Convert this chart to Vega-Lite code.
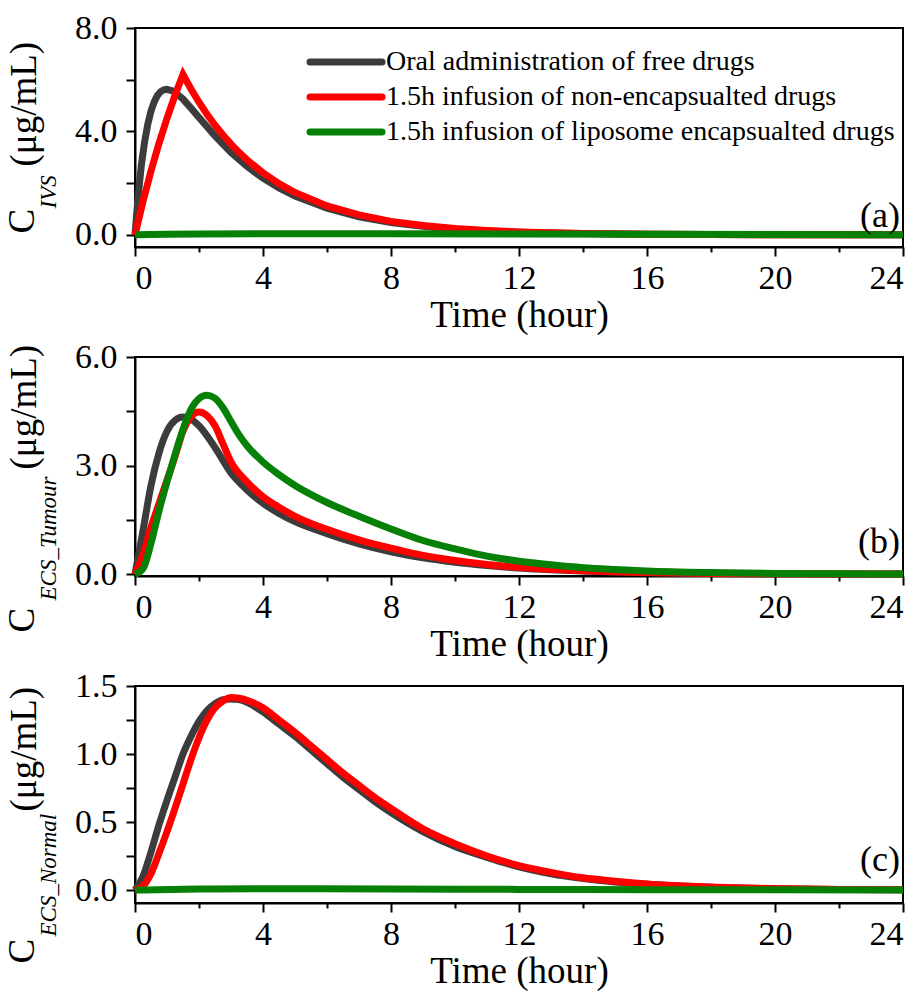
{
  "$schema": "https://vega.github.io/schema/vega-lite/v6.json",
  "background": "white",
  "padding": {"left": 2, "top": 10, "right": 5, "bottom": 5},
  "config": {
    "font": "Liberation Serif",
    "view": {"stroke": "black", "strokeWidth": 2},
    "axis": {
      "grid": false,
      "domainColor": "black",
      "domainWidth": 2,
      "tickColor": "black",
      "tickWidth": 2,
      "tickSize": 9,
      "labelFont": "Liberation Serif",
      "labelFontSize": 34,
      "labelColor": "black",
      "titleFont": "Liberation Serif",
      "titleFontSize": 37,
      "titleFontWeight": "normal",
      "titleColor": "black"
    }
  },
  "datasets": {
    "a": [
      {"series": "Oral administration of free drugs", "t": 0, "c": 0},
      {"series": "Oral administration of free drugs", "t": 0.1, "c": 1.53},
      {"series": "Oral administration of free drugs", "t": 0.2, "c": 2.71},
      {"series": "Oral administration of free drugs", "t": 0.3, "c": 3.6},
      {"series": "Oral administration of free drugs", "t": 0.4, "c": 4.28},
      {"series": "Oral administration of free drugs", "t": 0.5, "c": 4.79},
      {"series": "Oral administration of free drugs", "t": 0.6, "c": 5.14},
      {"series": "Oral administration of free drugs", "t": 0.7, "c": 5.39},
      {"series": "Oral administration of free drugs", "t": 0.8, "c": 5.54},
      {"series": "Oral administration of free drugs", "t": 0.9, "c": 5.61},
      {"series": "Oral administration of free drugs", "t": 1.0, "c": 5.63},
      {"series": "Oral administration of free drugs", "t": 1.2, "c": 5.56},
      {"series": "Oral administration of free drugs", "t": 1.5, "c": 5.25},
      {"series": "Oral administration of free drugs", "t": 1.75, "c": 4.9},
      {"series": "Oral administration of free drugs", "t": 2, "c": 4.54},
      {"series": "Oral administration of free drugs", "t": 2.5, "c": 3.83},
      {"series": "Oral administration of free drugs", "t": 3, "c": 3.19},
      {"series": "Oral administration of free drugs", "t": 3.5, "c": 2.65},
      {"series": "Oral administration of free drugs", "t": 4, "c": 2.19},
      {"series": "Oral administration of free drugs", "t": 4.5, "c": 1.81},
      {"series": "Oral administration of free drugs", "t": 5, "c": 1.5},
      {"series": "Oral administration of free drugs", "t": 6, "c": 1.03},
      {"series": "Oral administration of free drugs", "t": 7, "c": 0.7},
      {"series": "Oral administration of free drugs", "t": 8, "c": 0.48},
      {"series": "Oral administration of free drugs", "t": 9, "c": 0.33},
      {"series": "Oral administration of free drugs", "t": 10, "c": 0.22},
      {"series": "Oral administration of free drugs", "t": 11, "c": 0.15},
      {"series": "Oral administration of free drugs", "t": 12, "c": 0.105},
      {"series": "Oral administration of free drugs", "t": 13, "c": 0.072},
      {"series": "Oral administration of free drugs", "t": 14, "c": 0.049},
      {"series": "Oral administration of free drugs", "t": 16, "c": 0.023},
      {"series": "Oral administration of free drugs", "t": 18, "c": 0.011},
      {"series": "Oral administration of free drugs", "t": 20, "c": 0.005},
      {"series": "Oral administration of free drugs", "t": 24, "c": 0.001},
      {"series": "1.5h infusion of non-encapsualted drugs", "t": 0, "c": 0},
      {"series": "1.5h infusion of non-encapsualted drugs", "t": 0.25, "c": 1.29},
      {"series": "1.5h infusion of non-encapsualted drugs", "t": 0.5, "c": 2.47},
      {"series": "1.5h infusion of non-encapsualted drugs", "t": 0.75, "c": 3.54},
      {"series": "1.5h infusion of non-encapsualted drugs", "t": 1, "c": 4.51},
      {"series": "1.5h infusion of non-encapsualted drugs", "t": 1.25, "c": 5.4},
      {"series": "1.5h infusion of non-encapsualted drugs", "t": 1.5, "c": 6.2},
      {"series": "1.5h infusion of non-encapsualted drugs", "t": 1.75, "c": 5.64},
      {"series": "1.5h infusion of non-encapsualted drugs", "t": 2, "c": 5.13},
      {"series": "1.5h infusion of non-encapsualted drugs", "t": 2.25, "c": 4.66},
      {"series": "1.5h infusion of non-encapsualted drugs", "t": 2.5, "c": 4.24},
      {"series": "1.5h infusion of non-encapsualted drugs", "t": 2.75, "c": 3.86},
      {"series": "1.5h infusion of non-encapsualted drugs", "t": 3, "c": 3.51},
      {"series": "1.5h infusion of non-encapsualted drugs", "t": 3.25, "c": 3.19},
      {"series": "1.5h infusion of non-encapsualted drugs", "t": 3.5, "c": 2.9},
      {"series": "1.5h infusion of non-encapsualted drugs", "t": 4, "c": 2.4},
      {"series": "1.5h infusion of non-encapsualted drugs", "t": 4.5, "c": 1.98},
      {"series": "1.5h infusion of non-encapsualted drugs", "t": 5, "c": 1.64},
      {"series": "1.5h infusion of non-encapsualted drugs", "t": 6, "c": 1.12},
      {"series": "1.5h infusion of non-encapsualted drugs", "t": 7, "c": 0.77},
      {"series": "1.5h infusion of non-encapsualted drugs", "t": 8, "c": 0.52},
      {"series": "1.5h infusion of non-encapsualted drugs", "t": 9, "c": 0.36},
      {"series": "1.5h infusion of non-encapsualted drugs", "t": 10, "c": 0.25},
      {"series": "1.5h infusion of non-encapsualted drugs", "t": 11, "c": 0.17},
      {"series": "1.5h infusion of non-encapsualted drugs", "t": 12, "c": 0.115},
      {"series": "1.5h infusion of non-encapsualted drugs", "t": 13, "c": 0.079},
      {"series": "1.5h infusion of non-encapsualted drugs", "t": 14, "c": 0.054},
      {"series": "1.5h infusion of non-encapsualted drugs", "t": 16, "c": 0.025},
      {"series": "1.5h infusion of non-encapsualted drugs", "t": 18, "c": 0.012},
      {"series": "1.5h infusion of non-encapsualted drugs", "t": 20, "c": 0.0055},
      {"series": "1.5h infusion of non-encapsualted drugs", "t": 24, "c": 0.001},
      {"series": "1.5h infusion of liposome encapsualted drugs", "t": 0, "c": 0},
      {"series": "1.5h infusion of liposome encapsualted drugs", "t": 1, "c": 0.02},
      {"series": "1.5h infusion of liposome encapsualted drugs", "t": 2, "c": 0.035},
      {"series": "1.5h infusion of liposome encapsualted drugs", "t": 4, "c": 0.045},
      {"series": "1.5h infusion of liposome encapsualted drugs", "t": 6, "c": 0.045},
      {"series": "1.5h infusion of liposome encapsualted drugs", "t": 8, "c": 0.04},
      {"series": "1.5h infusion of liposome encapsualted drugs", "t": 12, "c": 0.03},
      {"series": "1.5h infusion of liposome encapsualted drugs", "t": 16, "c": 0.02},
      {"series": "1.5h infusion of liposome encapsualted drugs", "t": 20, "c": 0.012},
      {"series": "1.5h infusion of liposome encapsualted drugs", "t": 24, "c": 0.006}
    ],
    "b": [
      {"series": "Oral administration of free drugs", "t": 0, "c": 0},
      {"series": "Oral administration of free drugs", "t": 0.25, "c": 1.2},
      {"series": "Oral administration of free drugs", "t": 0.5, "c": 2.45},
      {"series": "Oral administration of free drugs", "t": 0.75, "c": 3.35},
      {"series": "Oral administration of free drugs", "t": 1, "c": 3.95},
      {"series": "Oral administration of free drugs", "t": 1.25, "c": 4.25},
      {"series": "Oral administration of free drugs", "t": 1.5, "c": 4.34},
      {"series": "Oral administration of free drugs", "t": 1.75, "c": 4.28},
      {"series": "Oral administration of free drugs", "t": 2, "c": 4.1},
      {"series": "Oral administration of free drugs", "t": 2.5, "c": 3.5},
      {"series": "Oral administration of free drugs", "t": 3, "c": 2.8},
      {"series": "Oral administration of free drugs", "t": 3.5, "c": 2.33},
      {"series": "Oral administration of free drugs", "t": 4, "c": 1.96},
      {"series": "Oral administration of free drugs", "t": 4.5, "c": 1.68},
      {"series": "Oral administration of free drugs", "t": 5, "c": 1.45},
      {"series": "Oral administration of free drugs", "t": 6, "c": 1.12},
      {"series": "Oral administration of free drugs", "t": 7, "c": 0.84},
      {"series": "Oral administration of free drugs", "t": 8, "c": 0.62},
      {"series": "Oral administration of free drugs", "t": 9, "c": 0.45},
      {"series": "Oral administration of free drugs", "t": 10, "c": 0.33},
      {"series": "Oral administration of free drugs", "t": 11, "c": 0.24},
      {"series": "Oral administration of free drugs", "t": 12, "c": 0.17},
      {"series": "Oral administration of free drugs", "t": 13, "c": 0.12},
      {"series": "Oral administration of free drugs", "t": 14, "c": 0.085},
      {"series": "Oral administration of free drugs", "t": 15, "c": 0.06},
      {"series": "Oral administration of free drugs", "t": 16, "c": 0.042},
      {"series": "Oral administration of free drugs", "t": 18, "c": 0.02},
      {"series": "Oral administration of free drugs", "t": 20, "c": 0.01},
      {"series": "Oral administration of free drugs", "t": 24, "c": 0.002},
      {"series": "1.5h infusion of non-encapsualted drugs", "t": 0, "c": 0},
      {"series": "1.5h infusion of non-encapsualted drugs", "t": 0.25, "c": 0.55},
      {"series": "1.5h infusion of non-encapsualted drugs", "t": 0.5, "c": 1.3},
      {"series": "1.5h infusion of non-encapsualted drugs", "t": 0.75, "c": 1.95},
      {"series": "1.5h infusion of non-encapsualted drugs", "t": 1, "c": 2.6},
      {"series": "1.5h infusion of non-encapsualted drugs", "t": 1.25, "c": 3.25},
      {"series": "1.5h infusion of non-encapsualted drugs", "t": 1.5, "c": 3.95},
      {"series": "1.5h infusion of non-encapsualted drugs", "t": 1.75, "c": 4.35},
      {"series": "1.5h infusion of non-encapsualted drugs", "t": 2, "c": 4.48},
      {"series": "1.5h infusion of non-encapsualted drugs", "t": 2.25, "c": 4.38},
      {"series": "1.5h infusion of non-encapsualted drugs", "t": 2.5, "c": 4.1},
      {"series": "1.5h infusion of non-encapsualted drugs", "t": 2.75, "c": 3.6},
      {"series": "1.5h infusion of non-encapsualted drugs", "t": 3, "c": 3.1},
      {"series": "1.5h infusion of non-encapsualted drugs", "t": 3.5, "c": 2.55},
      {"series": "1.5h infusion of non-encapsualted drugs", "t": 4, "c": 2.14},
      {"series": "1.5h infusion of non-encapsualted drugs", "t": 4.5, "c": 1.85},
      {"series": "1.5h infusion of non-encapsualted drugs", "t": 5, "c": 1.6},
      {"series": "1.5h infusion of non-encapsualted drugs", "t": 6, "c": 1.24},
      {"series": "1.5h infusion of non-encapsualted drugs", "t": 7, "c": 0.95},
      {"series": "1.5h infusion of non-encapsualted drugs", "t": 8, "c": 0.72},
      {"series": "1.5h infusion of non-encapsualted drugs", "t": 9, "c": 0.52},
      {"series": "1.5h infusion of non-encapsualted drugs", "t": 10, "c": 0.38},
      {"series": "1.5h infusion of non-encapsualted drugs", "t": 11, "c": 0.27},
      {"series": "1.5h infusion of non-encapsualted drugs", "t": 12, "c": 0.19},
      {"series": "1.5h infusion of non-encapsualted drugs", "t": 13, "c": 0.135},
      {"series": "1.5h infusion of non-encapsualted drugs", "t": 14, "c": 0.095},
      {"series": "1.5h infusion of non-encapsualted drugs", "t": 15, "c": 0.066},
      {"series": "1.5h infusion of non-encapsualted drugs", "t": 16, "c": 0.046},
      {"series": "1.5h infusion of non-encapsualted drugs", "t": 18, "c": 0.022},
      {"series": "1.5h infusion of non-encapsualted drugs", "t": 20, "c": 0.011},
      {"series": "1.5h infusion of non-encapsualted drugs", "t": 24, "c": 0.002},
      {"series": "1.5h infusion of liposome encapsualted drugs", "t": 0, "c": 0},
      {"series": "1.5h infusion of liposome encapsualted drugs", "t": 0.25, "c": 0.15},
      {"series": "1.5h infusion of liposome encapsualted drugs", "t": 0.5, "c": 0.85},
      {"series": "1.5h infusion of liposome encapsualted drugs", "t": 0.75, "c": 1.75},
      {"series": "1.5h infusion of liposome encapsualted drugs", "t": 1, "c": 2.55},
      {"series": "1.5h infusion of liposome encapsualted drugs", "t": 1.25, "c": 3.3},
      {"series": "1.5h infusion of liposome encapsualted drugs", "t": 1.5, "c": 4.0},
      {"series": "1.5h infusion of liposome encapsualted drugs", "t": 1.75, "c": 4.55},
      {"series": "1.5h infusion of liposome encapsualted drugs", "t": 2, "c": 4.85},
      {"series": "1.5h infusion of liposome encapsualted drugs", "t": 2.25, "c": 4.94},
      {"series": "1.5h infusion of liposome encapsualted drugs", "t": 2.5, "c": 4.86},
      {"series": "1.5h infusion of liposome encapsualted drugs", "t": 2.75, "c": 4.6},
      {"series": "1.5h infusion of liposome encapsualted drugs", "t": 3, "c": 4.22},
      {"series": "1.5h infusion of liposome encapsualted drugs", "t": 3.25, "c": 3.85},
      {"series": "1.5h infusion of liposome encapsualted drugs", "t": 3.5, "c": 3.55},
      {"series": "1.5h infusion of liposome encapsualted drugs", "t": 4, "c": 3.1},
      {"series": "1.5h infusion of liposome encapsualted drugs", "t": 4.5, "c": 2.75},
      {"series": "1.5h infusion of liposome encapsualted drugs", "t": 5, "c": 2.45},
      {"series": "1.5h infusion of liposome encapsualted drugs", "t": 6, "c": 1.98},
      {"series": "1.5h infusion of liposome encapsualted drugs", "t": 7, "c": 1.6},
      {"series": "1.5h infusion of liposome encapsualted drugs", "t": 8, "c": 1.25},
      {"series": "1.5h infusion of liposome encapsualted drugs", "t": 9, "c": 0.93},
      {"series": "1.5h infusion of liposome encapsualted drugs", "t": 10, "c": 0.7},
      {"series": "1.5h infusion of liposome encapsualted drugs", "t": 11, "c": 0.5},
      {"series": "1.5h infusion of liposome encapsualted drugs", "t": 12, "c": 0.36},
      {"series": "1.5h infusion of liposome encapsualted drugs", "t": 13, "c": 0.26},
      {"series": "1.5h infusion of liposome encapsualted drugs", "t": 14, "c": 0.18},
      {"series": "1.5h infusion of liposome encapsualted drugs", "t": 15, "c": 0.13},
      {"series": "1.5h infusion of liposome encapsualted drugs", "t": 16, "c": 0.09},
      {"series": "1.5h infusion of liposome encapsualted drugs", "t": 18, "c": 0.045},
      {"series": "1.5h infusion of liposome encapsualted drugs", "t": 20, "c": 0.02},
      {"series": "1.5h infusion of liposome encapsualted drugs", "t": 22, "c": 0.01},
      {"series": "1.5h infusion of liposome encapsualted drugs", "t": 24, "c": 0.005}
    ],
    "c": [
      {"series": "Oral administration of free drugs", "t": 0, "c": 0},
      {"series": "Oral administration of free drugs", "t": 0.25, "c": 0.1},
      {"series": "Oral administration of free drugs", "t": 0.5, "c": 0.28},
      {"series": "Oral administration of free drugs", "t": 0.75, "c": 0.48},
      {"series": "Oral administration of free drugs", "t": 1, "c": 0.66},
      {"series": "Oral administration of free drugs", "t": 1.25, "c": 0.83},
      {"series": "Oral administration of free drugs", "t": 1.5, "c": 1.0},
      {"series": "Oral administration of free drugs", "t": 1.75, "c": 1.13},
      {"series": "Oral administration of free drugs", "t": 2, "c": 1.24},
      {"series": "Oral administration of free drugs", "t": 2.25, "c": 1.32},
      {"series": "Oral administration of free drugs", "t": 2.5, "c": 1.37},
      {"series": "Oral administration of free drugs", "t": 2.75, "c": 1.4},
      {"series": "Oral administration of free drugs", "t": 3, "c": 1.405},
      {"series": "Oral administration of free drugs", "t": 3.25, "c": 1.4},
      {"series": "Oral administration of free drugs", "t": 3.5, "c": 1.38},
      {"series": "Oral administration of free drugs", "t": 4, "c": 1.31},
      {"series": "Oral administration of free drugs", "t": 4.5, "c": 1.22},
      {"series": "Oral administration of free drugs", "t": 5, "c": 1.13},
      {"series": "Oral administration of free drugs", "t": 5.5, "c": 1.03},
      {"series": "Oral administration of free drugs", "t": 6, "c": 0.93},
      {"series": "Oral administration of free drugs", "t": 6.5, "c": 0.83},
      {"series": "Oral administration of free drugs", "t": 7, "c": 0.74},
      {"series": "Oral administration of free drugs", "t": 7.5, "c": 0.65},
      {"series": "Oral administration of free drugs", "t": 8, "c": 0.57},
      {"series": "Oral administration of free drugs", "t": 9, "c": 0.43},
      {"series": "Oral administration of free drugs", "t": 10, "c": 0.32},
      {"series": "Oral administration of free drugs", "t": 11, "c": 0.24},
      {"series": "Oral administration of free drugs", "t": 12, "c": 0.17},
      {"series": "Oral administration of free drugs", "t": 13, "c": 0.12},
      {"series": "Oral administration of free drugs", "t": 14, "c": 0.085},
      {"series": "Oral administration of free drugs", "t": 15, "c": 0.06},
      {"series": "Oral administration of free drugs", "t": 16, "c": 0.042},
      {"series": "Oral administration of free drugs", "t": 18, "c": 0.02},
      {"series": "Oral administration of free drugs", "t": 20, "c": 0.01},
      {"series": "Oral administration of free drugs", "t": 22, "c": 0.005},
      {"series": "Oral administration of free drugs", "t": 24, "c": 0.002},
      {"series": "1.5h infusion of non-encapsualted drugs", "t": 0, "c": 0},
      {"series": "1.5h infusion of non-encapsualted drugs", "t": 0.25, "c": 0.03},
      {"series": "1.5h infusion of non-encapsualted drugs", "t": 0.5, "c": 0.12},
      {"series": "1.5h infusion of non-encapsualted drugs", "t": 0.75, "c": 0.27},
      {"series": "1.5h infusion of non-encapsualted drugs", "t": 1, "c": 0.43},
      {"series": "1.5h infusion of non-encapsualted drugs", "t": 1.25, "c": 0.6},
      {"series": "1.5h infusion of non-encapsualted drugs", "t": 1.5, "c": 0.78},
      {"series": "1.5h infusion of non-encapsualted drugs", "t": 1.75, "c": 0.96},
      {"series": "1.5h infusion of non-encapsualted drugs", "t": 2, "c": 1.12},
      {"series": "1.5h infusion of non-encapsualted drugs", "t": 2.25, "c": 1.25},
      {"series": "1.5h infusion of non-encapsualted drugs", "t": 2.5, "c": 1.34},
      {"series": "1.5h infusion of non-encapsualted drugs", "t": 2.75, "c": 1.39},
      {"series": "1.5h infusion of non-encapsualted drugs", "t": 3, "c": 1.415},
      {"series": "1.5h infusion of non-encapsualted drugs", "t": 3.25, "c": 1.41},
      {"series": "1.5h infusion of non-encapsualted drugs", "t": 3.5, "c": 1.395},
      {"series": "1.5h infusion of non-encapsualted drugs", "t": 4, "c": 1.34},
      {"series": "1.5h infusion of non-encapsualted drugs", "t": 4.5, "c": 1.25},
      {"series": "1.5h infusion of non-encapsualted drugs", "t": 5, "c": 1.16},
      {"series": "1.5h infusion of non-encapsualted drugs", "t": 5.5, "c": 1.06},
      {"series": "1.5h infusion of non-encapsualted drugs", "t": 6, "c": 0.96},
      {"series": "1.5h infusion of non-encapsualted drugs", "t": 6.5, "c": 0.86},
      {"series": "1.5h infusion of non-encapsualted drugs", "t": 7, "c": 0.77},
      {"series": "1.5h infusion of non-encapsualted drugs", "t": 7.5, "c": 0.68},
      {"series": "1.5h infusion of non-encapsualted drugs", "t": 8, "c": 0.6},
      {"series": "1.5h infusion of non-encapsualted drugs", "t": 9, "c": 0.45},
      {"series": "1.5h infusion of non-encapsualted drugs", "t": 10, "c": 0.34},
      {"series": "1.5h infusion of non-encapsualted drugs", "t": 11, "c": 0.25},
      {"series": "1.5h infusion of non-encapsualted drugs", "t": 12, "c": 0.18},
      {"series": "1.5h infusion of non-encapsualted drugs", "t": 13, "c": 0.13},
      {"series": "1.5h infusion of non-encapsualted drugs", "t": 14, "c": 0.09},
      {"series": "1.5h infusion of non-encapsualted drugs", "t": 15, "c": 0.065},
      {"series": "1.5h infusion of non-encapsualted drugs", "t": 16, "c": 0.045},
      {"series": "1.5h infusion of non-encapsualted drugs", "t": 18, "c": 0.022},
      {"series": "1.5h infusion of non-encapsualted drugs", "t": 20, "c": 0.011},
      {"series": "1.5h infusion of non-encapsualted drugs", "t": 22, "c": 0.005},
      {"series": "1.5h infusion of non-encapsualted drugs", "t": 24, "c": 0.002},
      {"series": "1.5h infusion of liposome encapsualted drugs", "t": 0, "c": 0},
      {"series": "1.5h infusion of liposome encapsualted drugs", "t": 2, "c": 0.008},
      {"series": "1.5h infusion of liposome encapsualted drugs", "t": 4, "c": 0.01},
      {"series": "1.5h infusion of liposome encapsualted drugs", "t": 8, "c": 0.008},
      {"series": "1.5h infusion of liposome encapsualted drugs", "t": 12, "c": 0.005},
      {"series": "1.5h infusion of liposome encapsualted drugs", "t": 16, "c": 0.003},
      {"series": "1.5h infusion of liposome encapsualted drugs", "t": 24, "c": 0.001}
    ]
  },
  "spacing": 110,
  "bounds": "flush",
  "resolve": {"scale": {"color": "independent"}, "legend": {"color": "independent"}},
  "vconcat": [
    {
      "width": 768,
      "height": 219,
      "data": {"name": "a"},
      "layer": [
        {
          "mark": {"type": "line", "strokeWidth": 7},
          "encoding": {
            "x": {"field": "t", "type": "quantitative", "scale": {"domain": [0, 24], "nice": false},
              "axis": {"orient": "bottom", "values": [0, 4, 8, 12, 16, 20, 24], "title": "Time (hour)", "labelPadding": 5, "titlePadding": 2}},
            "y": {"field": "c", "type": "quantitative", "scale": {"domain": [-0.47, 8], "nice": false, "zero": false},
              "axis": {"orient": "left", "values": [0, 4, 8], "format": ".1f", "labelPadding": 9, "title": "(μg/mL)", "titleAngle": 270, "titleX": -100, "titleY": 138, "titleAlign": "left", "titleBaseline": "alphabetic"}},
            "color": {"field": "series", "type": "nominal",
              "scale": {"domain": ["Oral administration of free drugs", "1.5h infusion of non-encapsualted drugs", "1.5h infusion of liposome encapsualted drugs"], "range": ["#3c3c3c", "#ff0000", "#078007"]},
              "legend": {"orient": "none", "legendX": 167, "legendY": 20, "title": null, "padding": 0, "labelFont": "Liberation Serif", "labelFontSize": 28, "labelColor": "black", "labelLimit": 800, "symbolType": "M-1,0H11", "symbolSize": 144, "symbolStrokeWidth": 7, "labelOffset": 56, "rowPadding": 7,
                "encode": {"symbols": {"update": {"strokeCap": {"value": "round"}, "fill": {"value": "transparent"}}}}}}
          }
        },
        {
          "mark": {"type": "line", "opacity": 0},
          "encoding": {
            "x": {"field": "t", "type": "quantitative", "axis": {"orient": "bottom", "values": [2, 6, 10, 14, 18, 22], "labels": false, "domain": false, "tickSize": 5, "title": null}},
            "y": {"field": "c", "type": "quantitative", "axis": {"orient": "left", "values": [2, 6], "labels": false, "domain": false, "title": "C", "titleAngle": 270, "titleX": -102, "titleY": 205, "titleAlign": "left", "titleBaseline": "alphabetic"}},
            "detail": {"field": "series"}
          }
        },
        {
          "mark": {"type": "line", "opacity": 0},
          "encoding": {
            "x": {"field": "t", "type": "quantitative", "axis": null},
            "y": {"field": "c", "type": "quantitative", "axis": {"orient": "left", "values": [], "labels": false, "ticks": false, "domain": false, "title": "IVS", "titleFontStyle": "italic", "titleFontSize": 23, "titleAngle": 270, "titleX": -80, "titleY": 180, "titleAlign": "left", "titleBaseline": "alphabetic"}},
            "detail": {"field": "series"}
          }
        },
        {
          "data": {"values": [{}]},
          "mark": {"type": "text", "align": "right", "baseline": "alphabetic", "fontSize": 36, "dx": -3, "font": "Liberation Serif", "color": "black"},
          "encoding": {
            "x": {"datum": 24, "type": "quantitative", "axis": null},
            "y": {"datum": 0.3, "type": "quantitative", "axis": null},
            "text": {"value": "(a)"}
          }
        }
      ],
      "resolve": {"axis": {"x": "independent", "y": "independent"}}
    },
    {
      "width": 768,
      "height": 219,
      "data": {"name": "b"},
      "layer": [
        {
          "mark": {"type": "line", "strokeWidth": 7, "interpolate": "monotone"},
          "encoding": {
            "x": {"field": "t", "type": "quantitative", "scale": {"domain": [0, 24], "nice": false},
              "axis": {"orient": "bottom", "values": [0, 4, 8, 12, 16, 20, 24], "title": "Time (hour)", "labelPadding": 5, "titlePadding": 2}},
            "y": {"field": "c", "type": "quantitative", "scale": {"domain": [-0.05, 6], "nice": false, "zero": false},
              "axis": {"orient": "left", "values": [0, 3, 6], "format": ".1f", "labelPadding": 9, "title": "(μg/mL)", "titleAngle": 270, "titleX": -100, "titleY": 112, "titleAlign": "left", "titleBaseline": "alphabetic"}},
            "color": {"field": "series", "type": "nominal",
              "scale": {"domain": ["Oral administration of free drugs", "1.5h infusion of non-encapsualted drugs", "1.5h infusion of liposome encapsualted drugs"], "range": ["#3c3c3c", "#ff0000", "#078007"]},
              "legend": null}
          }
        },
        {
          "mark": {"type": "line", "opacity": 0},
          "encoding": {
            "x": {"field": "t", "type": "quantitative", "axis": {"orient": "bottom", "values": [2, 6, 10, 14, 18, 22], "labels": false, "domain": false, "tickSize": 5, "title": null}},
            "y": {"field": "c", "type": "quantitative", "axis": {"orient": "left", "values": [1.5, 4.5], "labels": false, "domain": false, "title": "C", "titleAngle": 270, "titleX": -102, "titleY": 275, "titleAlign": "left", "titleBaseline": "alphabetic"}},
            "detail": {"field": "series"}
          }
        },
        {
          "mark": {"type": "line", "opacity": 0},
          "encoding": {
            "x": {"field": "t", "type": "quantitative", "axis": null},
            "y": {"field": "c", "type": "quantitative", "axis": {"orient": "left", "values": [], "labels": false, "ticks": false, "domain": false, "title": "ECS_Tumour", "titleFontStyle": "italic", "titleFontSize": 23, "titleAngle": 270, "titleX": -80, "titleY": 243, "titleAlign": "left", "titleBaseline": "alphabetic"}},
            "detail": {"field": "series"}
          }
        },
        {
          "data": {"values": [{}]},
          "mark": {"type": "text", "align": "right", "baseline": "alphabetic", "fontSize": 36, "dx": -3, "font": "Liberation Serif", "color": "black"},
          "encoding": {
            "x": {"datum": 24, "type": "quantitative", "axis": null},
            "y": {"datum": 0.58, "type": "quantitative", "axis": null},
            "text": {"value": "(b)"}
          }
        }
      ],
      "resolve": {"axis": {"x": "independent", "y": "independent"}}
    },
    {
      "width": 768,
      "height": 217,
      "data": {"name": "c"},
      "layer": [
        {
          "mark": {"type": "line", "strokeWidth": 7, "interpolate": "monotone"},
          "encoding": {
            "x": {"field": "t", "type": "quantitative", "scale": {"domain": [0, 24], "nice": false},
              "axis": {"orient": "bottom", "values": [0, 4, 8, 12, 16, 20, 24], "title": "Time (hour)", "labelPadding": 5, "titlePadding": 2}},
            "y": {"field": "c", "type": "quantitative", "scale": {"domain": [-0.095, 1.5], "nice": false, "zero": false},
              "axis": {"orient": "left", "values": [0, 0.5, 1, 1.5], "format": ".1f", "labelPadding": 9, "title": "(μg/mL)", "titleAngle": 270, "titleX": -100, "titleY": 125, "titleAlign": "left", "titleBaseline": "alphabetic"}},
            "color": {"field": "series", "type": "nominal",
              "scale": {"domain": ["Oral administration of free drugs", "1.5h infusion of non-encapsualted drugs", "1.5h infusion of liposome encapsualted drugs"], "range": ["#3c3c3c", "#ff0000", "#078007"]},
              "legend": null}
          }
        },
        {
          "mark": {"type": "line", "opacity": 0},
          "encoding": {
            "x": {"field": "t", "type": "quantitative", "axis": {"orient": "bottom", "values": [2, 6, 10, 14, 18, 22], "labels": false, "domain": false, "tickSize": 5, "title": null}},
            "y": {"field": "c", "type": "quantitative", "axis": {"orient": "left", "values": [0.25, 0.75, 1.25], "labels": false, "domain": false, "title": "C", "titleAngle": 270, "titleX": -102, "titleY": 277, "titleAlign": "left", "titleBaseline": "alphabetic"}},
            "detail": {"field": "series"}
          }
        },
        {
          "mark": {"type": "line", "opacity": 0},
          "encoding": {
            "x": {"field": "t", "type": "quantitative", "axis": null},
            "y": {"field": "c", "type": "quantitative", "axis": {"orient": "left", "values": [], "labels": false, "ticks": false, "domain": false, "title": "ECS_Normal", "titleFontStyle": "italic", "titleFontSize": 23, "titleAngle": 270, "titleX": -80, "titleY": 250, "titleAlign": "left", "titleBaseline": "alphabetic"}},
            "detail": {"field": "series"}
          }
        },
        {
          "data": {"values": [{}]},
          "mark": {"type": "text", "align": "right", "baseline": "alphabetic", "fontSize": 36, "dx": -3, "font": "Liberation Serif", "color": "black"},
          "encoding": {
            "x": {"datum": 24, "type": "quantitative", "axis": null},
            "y": {"datum": 0.14, "type": "quantitative", "axis": null},
            "text": {"value": "(c)"}
          }
        }
      ],
      "resolve": {"axis": {"x": "independent", "y": "independent"}}
    }
  ]
}
